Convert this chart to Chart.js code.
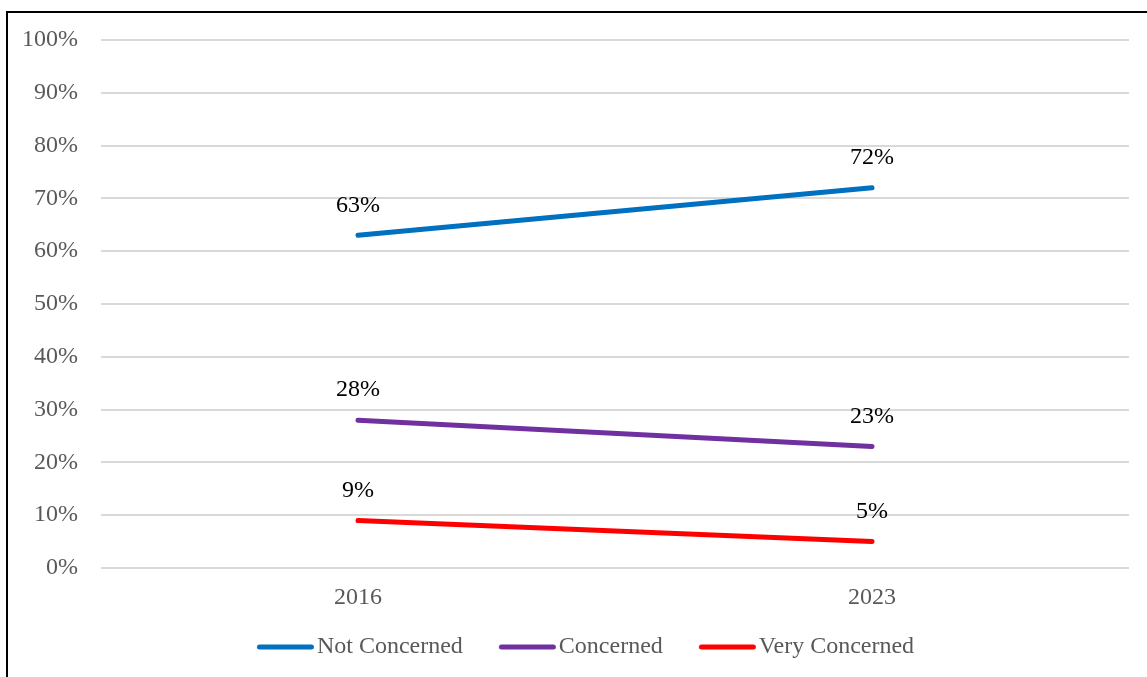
<!DOCTYPE html>
<html lang="en">
<head>
    <meta charset="UTF-8">
    <title>Concern 2016 vs 2023</title>
    <script src="https://cdn.jsdelivr.net/npm/chart.js"></script>
    <style>
        body { margin: 0; overflow: hidden; background: #fff; }
        #wrap { position: relative; width: 1147px; height: 677px; }
        #frame { position: absolute; left: 6px; top: 11px; width: 1200px; height: 700px; border: 2px solid #000; pointer-events: none; }
        canvas { position: absolute; left: 0; top: 0; }
    </style>
</head>
<body>
    <div id="wrap">
        <canvas id="lineChart" width="1147" height="677"></canvas>
        <div id="frame"></div>
    </div>
    <script>
        const years = ['2016', '2023'];
        const notConcerned = [63, 72];
        const concerned = [28, 23];
        const veryConcerned = [9, 5];
        const seriesNames = ['Not Concerned', 'Concerned', 'Very Concerned'];
        const seriesColors = ['#0070C0', '#7030A0', '#FF0000'];

        const fontFamily = '"Liberation Serif", "Times New Roman", serif';

        // legend marker: short round-capped line; image is wider than the legend box
        // so the line can sit right next to the label text
        const legendLine = color => {
            const c = document.createElement('canvas');
            c.width = 90;
            c.height = 8;
            const g = c.getContext('2d');
            g.strokeStyle = color;
            g.lineWidth = 5;
            g.lineCap = 'round';
            g.beginPath();
            g.moveTo(33.5, 4);
            g.lineTo(85.5, 4);
            g.stroke();
            return c;
        };

        const valueLabels = {
            id: 'valueLabels',
            afterDatasetsDraw(chart) {
                const ctx = chart.ctx;
                ctx.save();
                ctx.font = '24px ' + fontFamily;
                ctx.fillStyle = '#000';
                ctx.textAlign = 'center';
                ctx.textBaseline = 'middle';
                chart.data.datasets.forEach((ds, i) => {
                    chart.getDatasetMeta(i).data.forEach((pt, j) => {
                        ctx.fillText(ds.data[j] + '%', pt.x, pt.y - 30);
                    });
                });
                ctx.restore();
            }
        };

        const makeSet = (i, data) => ({
            label: seriesNames[i],
            data: data,
            borderColor: seriesColors[i],
            backgroundColor: seriesColors[i],
            borderWidth: 5,
            borderCapStyle: 'round',
            pointRadius: 0,
            pointStyle: legendLine(seriesColors[i]),
            tension: 0,
            fill: false
        });

        const ctx = document.getElementById('lineChart').getContext('2d');
        new Chart(ctx, {
            type: 'line',
            data: {
                labels: years,
                datasets: [
                    makeSet(0, notConcerned),
                    makeSet(1, concerned),
                    makeSet(2, veryConcerned)
                ]
            },
            options: {
                responsive: false,
                animation: false,
                events: [],
                layout: { padding: { top: 40, right: 18, left: 22, bottom: 8 } },
                scales: {
                    x: {
                        offset: true,
                        grid: { display: false, drawTicks: false },
                        border: { display: false },
                        ticks: { color: '#595959', padding: 15, font: { family: fontFamily, size: 24 } },
                        afterFit: s => { s.height = 51; }
                    },
                    y: {
                        min: 0,
                        max: 100,
                        ticks: {
                            stepSize: 10,
                            color: '#595959',
                            padding: 23,
                            font: { family: fontFamily, size: 24 },
                            callback: v => v + '%'
                        },
                        grid: { color: '#d9d9d9', lineWidth: 2, drawTicks: false },
                        border: { display: false },
                        afterFit: s => { s.width = 79; }
                    }
                },
                plugins: {
                    legend: {
                        position: 'bottom',
                        labels: {
                            usePointStyle: true,
                            pointStyleWidth: 68,
                            padding: 16,
                            color: '#595959',
                            font: { family: fontFamily, size: 24 }
                        }
                    },
                    tooltip: { enabled: false }
                }
            },
            plugins: [valueLabels]
        });
    </script>
</body>
</html>
